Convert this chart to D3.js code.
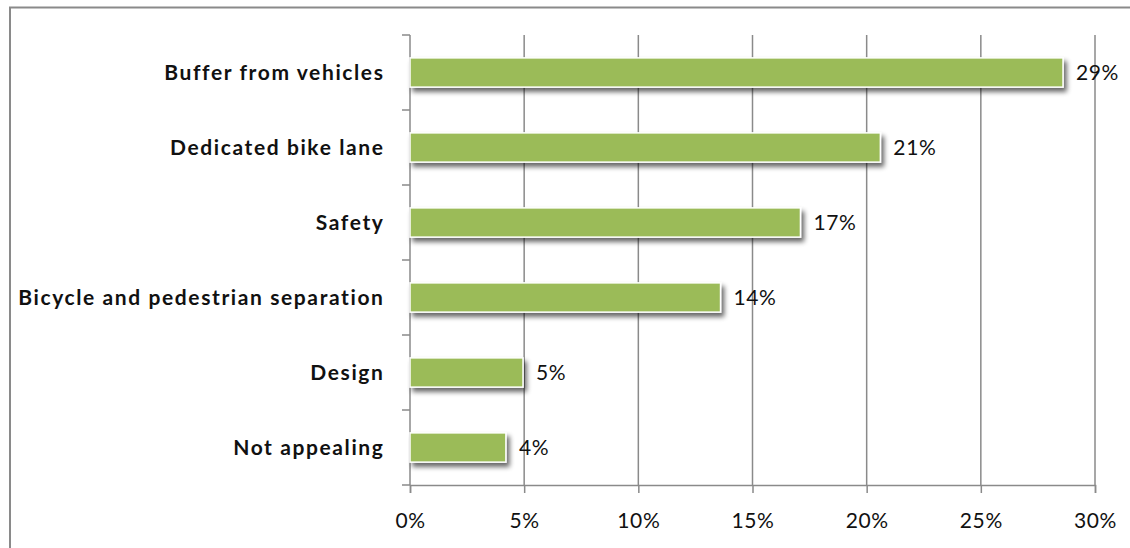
<!DOCTYPE html>
<html>
<head>
<meta charset="utf-8">
<script src="https://cdn.jsdelivr.net/npm/d3@7"></script>
<style>
  html, body { margin: 0; padding: 0; background: #fff; }
  svg { display: block; }
  text { font-family: Lato, "Open Sans", sans-serif; fill: #111; }
</style>
</head>
<body>
<svg id="chart" width="1130" height="548"></svg>
<script>
// Reasons cited (share of responses)
const categories = [
  "Buffer from vehicles",
  "Dedicated bike lane",
  "Safety",
  "Bicycle and pedestrian separation",
  "Design",
  "Not appealing"
];
const values = [0.286, 0.206, 0.171, 0.136, 0.0495, 0.042];
const tickValues = [0, 0.05, 0.10, 0.15, 0.20, 0.25, 0.30];

const svg = d3.select("#chart");
const W = 1130, H = 548;
const margin = { left: 410, right: 35, top: 35, bottom: 63 };

const x = d3.scaleLinear().domain([0, 0.30]).range([margin.left, W - margin.right]);
const y = d3.scaleBand().domain(categories).range([margin.top, H - margin.bottom]).paddingInner(0.61).paddingOuter(0.305);
const pct = d3.format(".0%");

// drop shadow under the bars
const defs = svg.append("defs");
const f = defs.append("filter").attr("id", "shadow").attr("x", "-5%").attr("y", "-30%").attr("width", "115%").attr("height", "180%");
f.append("feGaussianBlur").attr("in", "SourceAlpha").attr("stdDeviation", 2.4);
f.append("feOffset").attr("dx", 3).attr("dy", 4).attr("result", "ob");
f.append("feComponentTransfer").append("feFuncA").attr("type", "linear").attr("slope", 0.6);
const m = f.append("feMerge");
m.append("feMergeNode");
m.append("feMergeNode").attr("in", "SourceGraphic");

// outer chart frame
svg.append("rect")
  .attr("x", 10).attr("y", 7.5).attr("width", W + 20).attr("height", H + 20)
  .attr("fill", "none").attr("stroke", "#8a8a8a").attr("stroke-width", 2);

// vertical gridlines
svg.append("g")
  .selectAll("line")
  .data(tickValues.slice(1))
  .join("line")
  .attr("x1", d => x(d)).attr("x2", d => x(d))
  .attr("y1", margin.top).attr("y2", H - margin.bottom)
  .attr("stroke", "#8a8a8a").attr("stroke-width", 1.5);

// x axis
const xAxis = svg.append("g")
  .attr("transform", `translate(0,${H - margin.bottom})`)
  .call(d3.axisBottom(x).tickValues(tickValues).tickFormat(pct).tickSize(8).tickPadding(20));
xAxis.select(".domain").attr("stroke", "#8a8a8a").attr("stroke-width", 1.5);
xAxis.selectAll(".tick line").attr("stroke", "#8a8a8a").attr("stroke-width", 1.5);
xAxis.selectAll(".tick text").attr("font-size", 21).attr("fill", "#111")
  .attr("letter-spacing", 0.6)
  .attr("font-family", "Lato, sans-serif");

// y axis with ticks between categories
const yAxis = svg.append("g").attr("transform", `translate(${margin.left},0)`);
yAxis.append("line")
  .attr("x1", 0).attr("x2", 0)
  .attr("y1", margin.top).attr("y2", H - margin.bottom)
  .attr("stroke", "#8a8a8a").attr("stroke-width", 1.5);
const step = y.step();
const boundaries = d3.range(categories.length + 1).map(i => margin.top + i * step);
yAxis.selectAll("line.tk")
  .data(boundaries)
  .join("line").attr("class", "tk")
  .attr("x1", -8).attr("x2", 0)
  .attr("y1", d => d).attr("y2", d => d)
  .attr("stroke", "#8a8a8a").attr("stroke-width", 1.5);

// category labels
svg.append("g")
  .selectAll("text")
  .data(categories)
  .join("text")
  .attr("x", 384.5)
  .attr("y", d => y(d) + y.bandwidth() / 2)
  .attr("dy", "0.35em")
  .attr("text-anchor", "end")
  .attr("font-size", 21)
  .attr("letter-spacing", 1.6)
  .attr("font-weight", "bold")
  .text(d => d);

// bars
svg.append("g")
  .selectAll("rect")
  .data(categories)
  .join("rect")
  .attr("x", x(0))
  .attr("y", d => y(d))
  .attr("width", (d, i) => x(values[i]) - x(0))
  .attr("height", y.bandwidth())
  .attr("fill", "#9bbb59")
  .attr("stroke", "#ffffff")
  .attr("stroke-width", 1.5)
  .attr("filter", "url(#shadow)");

// value labels
svg.append("g")
  .selectAll("text")
  .data(categories)
  .join("text")
  .attr("x", (d, i) => x(values[i]) + 13)
  .attr("y", d => y(d) + y.bandwidth() / 2)
  .attr("dy", "0.35em")
  .attr("font-size", 21)
  .attr("letter-spacing", 0.6)
  .text((d, i) => pct(values[i]));
</script>
</body>
</html>
